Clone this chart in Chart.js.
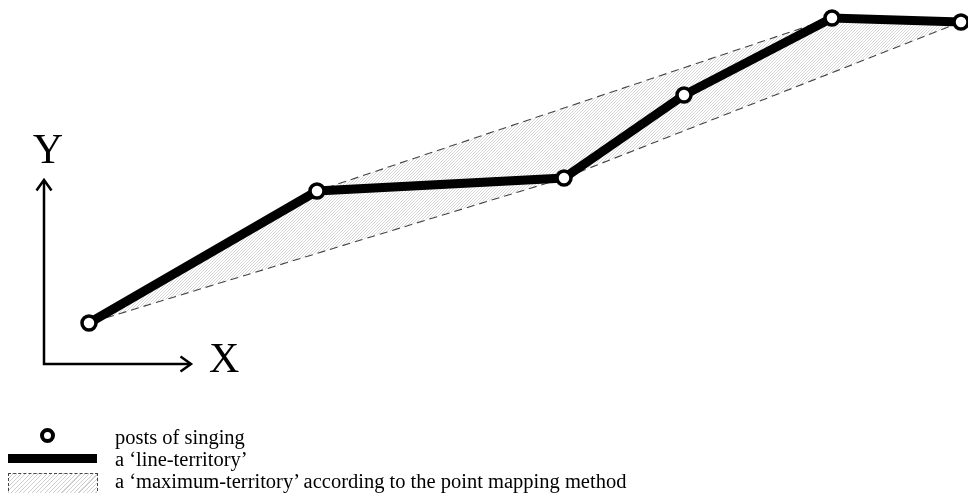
<!DOCTYPE html>
<html>
<head>
<meta charset="utf-8">
<script src="https://cdn.jsdelivr.net/npm/chart.js@4"></script>
<style>
  html, body { margin: 0; padding: 0; background: #fff; }
  #wrap { position: relative; width: 968px; height: 493px; overflow: hidden; }
  #chart { position: absolute; left: 0; top: 0; }
  .txt { position: absolute; left: 115px; font-family: "Liberation Serif", serif; font-size: 20.5px; line-height: 22px; color: #000; white-space: nowrap; }
  .sym-post { position: absolute; left: 40px; top: 428px; width: 7px; height: 7px; border: 4px solid #000; border-radius: 50%; background: #fff; }
  .sym-line { position: absolute; left: 8px; top: 454px; width: 89px; height: 9px; background: #000; }
  .sym-max { position: absolute; left: 8px; top: 473px; width: 88px; height: 22px; border: 1px dashed #444; border-bottom: none;
    background: repeating-linear-gradient(135deg, #fff 0 2.2px, #cfcfcf 2.2px 3px); }
</style>
</head>
<body>
<div id="wrap">
  <canvas id="chart" width="968" height="493"></canvas>
  <div class="sym-post"></div>
  <div class="sym-line"></div>
  <div class="sym-max"></div>
  <div class="txt" style="top:426px">posts of singing</div>
  <div class="txt" style="top:448px">a ‘line-territory’</div>
  <div class="txt" style="top:470px">a ‘maximum-territory’ according to the point mapping method</div>
</div>
<script>
// posts of singing, in the order the line visits them
const postsX = [4.5, 27.3, 52.0, 64.0, 78.8, 91.7];
const postsY = [4.1, 17.3, 18.6, 26.9, 34.6, 34.2];

// maximum-territory = outline round the outer posts (indexes into the posts)
const hullOrder = [0, 1, 4, 5, 2, 0];

// drawn axes: arrow ends
const axisEndX = 14.7;
const axisEndY = 18.4;
const axisNames = ['X', 'Y'];

const posts = postsX.map((x, i) => ({ x, y: postsY[i] }));
const hull = hullOrder.map(i => posts[i]);

// hatch pattern for the maximum-territory
function hatch() {
  const c = document.createElement('canvas');
  c.width = 3; c.height = 3;
  const g = c.getContext('2d');
  g.strokeStyle = '#cbcbcb';
  g.lineWidth = 0.8;
  g.beginPath();
  g.moveTo(0, 3); g.lineTo(3, 0);
  g.moveTo(-1, 1); g.lineTo(1, -1);
  g.moveTo(2, 4); g.lineTo(4, 2);
  g.stroke();
  return g.createPattern(c, 'repeat');
}

// X / Y letters next to the arrow tips
const axisLetters = {
  id: 'axisLetters',
  afterDatasetsDraw(chart) {
    const { ctx, scales: { x, y } } = chart;
    ctx.save();
    ctx.fillStyle = '#000';
    ctx.font = '42px "Liberation Serif", serif';
    ctx.textBaseline = 'alphabetic';
    ctx.textAlign = 'left';
    ctx.fillText(axisNames[0], x.getPixelForValue(axisEndX) + 18, y.getPixelForValue(0) + 8);
    ctx.textAlign = 'center';
    ctx.fillText(axisNames[1], x.getPixelForValue(0) + 4, y.getPixelForValue(axisEndY) - 17);
    ctx.restore();
  }
};

const headW = 0.75, headL = 1.05;

new Chart(document.getElementById('chart'), {
  type: 'scatter',
  data: {
    datasets: [
      {
        label: 'axes',
        data: [{ x: 0, y: axisEndY }, { x: 0, y: 0 }, { x: axisEndX, y: 0 }],
        showLine: true, borderColor: '#000', borderWidth: 2.5, pointRadius: 0,
        borderJoinStyle: 'miter', clip: false, order: 5
      },
      {
        label: 'arrow heads',
        data: [
          { x: -headW, y: axisEndY - headL }, { x: 0, y: axisEndY }, { x: headW, y: axisEndY - headL },
          { x: null, y: null },
          { x: axisEndX - headL, y: headW }, { x: axisEndX, y: 0 }, { x: axisEndX - headL, y: -headW }
        ],
        showLine: true, spanGaps: false, borderColor: '#000', borderWidth: 2.5, pointRadius: 0,
        clip: false, order: 5
      },
      {
        label: 'maximum-territory',
        data: hull,
        showLine: true, fill: 'shape', backgroundColor: hatch(),
        borderColor: '#444', borderWidth: 1.1, borderDash: [8, 5], pointRadius: 0,
        clip: false, order: 3
      },
      {
        label: 'line-territory',
        data: posts,
        showLine: true, borderColor: '#000', borderWidth: 9,
        pointRadius: 7, pointBorderWidth: 3.5, pointBackgroundColor: '#fff', pointBorderColor: '#000',
        clip: false, order: 1
      }
    ]
  },
  options: {
    responsive: false,
    animation: false,
    layout: { autoPadding: false, padding: { left: 44, right: 4, top: 4, bottom: 129 } },
    scales: {
      x: { type: 'linear', min: 0, max: 92, display: false },
      y: { type: 'linear', min: 0, max: 36, display: false }
    },
    plugins: { legend: { display: false }, tooltip: { enabled: false } }
  },
  plugins: [axisLetters]
});
</script>
</body>
</html>
